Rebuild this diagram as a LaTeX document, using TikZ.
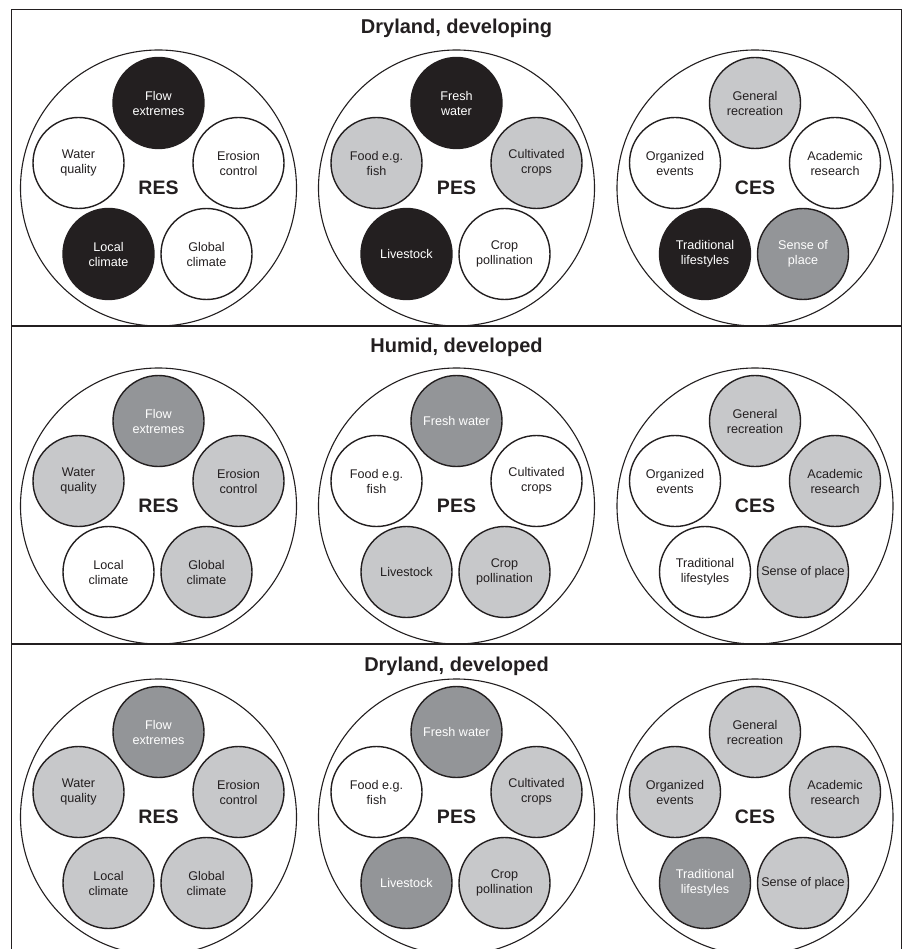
\documentclass[tikz,border=0pt]{standalone}
\usepackage{fontspec}
\setmainfont{Liberation Sans}
\definecolor{ink}{HTML}{231F20}
\definecolor{midgray}{HTML}{939598}
\definecolor{ltgray}{HTML}{C7C8CA}
\tikzset{
  frameline/.style={draw=ink, line width=1.6pt},
  sepline/.style={draw=ink, line width=1.2pt},
  title/.style={font=\fontsize{20}{24}\selectfont\bfseries, text=ink},
  bigc/.style={circle, draw=ink, line width=1.1pt, minimum size=276pt, inner sep=0pt,
    font=\fontsize{19.5}{22}\selectfont\bfseries, text=ink},
  es/.style={circle, draw=ink, line width=1.4pt, minimum size=91pt, inner sep=0pt,
    align=center, font=\fontsize{12.6}{15}\selectfont, text=ink, fill=white},
  wht/.style={es},
  lgt/.style={es, fill=ltgray},
  drk/.style={es, fill=midgray, text=white},
  blk/.style={es, fill=ink, text=white}
}
\begin{document}
\begin{tikzpicture}[x=1pt, y=-1pt]
    \clip (0,0) rectangle (905,949);
    \fill[white] (0,0) rectangle (905,949);

    \coordinate (tl) at (11.5,9.5);
    \coordinate (tr) at (901.5,9.5);
    \coordinate (bl) at (11.5,949);
    \coordinate (br) at (901.5,949);
    \coordinate (s1l) at (11.5,326);
    \coordinate (s1r) at (901.5,326);
    \coordinate (s2l) at (11.5,644);
    \coordinate (s2r) at (901.5,644);
    \draw[frameline] (bl) -- (tl) -- (tr) -- (br);
    \draw[sepline] (s1l) -- (s1r);
    \draw[sepline] (s2l) -- (s2r);

    \node[title] (ta) at (456.5,28) {Dryland, developing};
    \node[title] (tb) at (456.5,347) {Humid, developed};
    \node[title] (tc) at (456.5,666) {Dryland, developed};

    \node[bigc] (resa) at (158.5,188) {RES};
    \node[bigc] (pesa) at (456.5,188) {PES};
    \node[bigc] (cesa) at (755,188) {CES};
    \node[bigc] (resb) at (158.5,506) {RES};
    \node[bigc] (pesb) at (456.5,506) {PES};
    \node[bigc] (cesb) at (755,506) {CES};
    \node[bigc] (resc) at (158.5,817) {RES};
    \node[bigc] (pesc) at (456.5,817) {PES};
    \node[bigc] (cesc) at (755,817) {CES};

    \node[blk] (resa-flow) at ([yshift=85pt]resa.center) {Flow\\extremes};
    \node[wht] (resa-water) at ([xshift=-80pt,yshift=25pt]resa.center) {Water\\quality};
    \node[wht] (resa-erosion) at ([xshift=80pt,yshift=25pt]resa.center) {Erosion\\control};
    \node[blk] (resa-local) at ([xshift=-50pt,yshift=-66pt]resa.center) {Local\\climate};
    \node[wht] (resa-global) at ([xshift=48pt,yshift=-66pt]resa.center) {Global\\climate};

    \node[blk] (pesa-fresh) at ([yshift=85pt]pesa.center) {Fresh\\water};
    \node[lgt] (pesa-food) at ([xshift=-80pt,yshift=25pt]pesa.center) {Food e.g.\\fish};
    \node[lgt] (pesa-crops) at ([xshift=80pt,yshift=25pt]pesa.center) {Cultivated\\crops};
    \node[blk] (pesa-stock) at ([xshift=-50pt,yshift=-66pt]pesa.center) {Livestock};
    \node[wht] (pesa-poll) at ([xshift=48pt,yshift=-66pt]pesa.center) {Crop\\pollination};

    \node[lgt] (cesa-recr) at ([yshift=85pt]cesa.center) {General\\recreation};
    \node[wht] (cesa-events) at ([xshift=-80pt,yshift=25pt]cesa.center) {Organized\\events};
    \node[wht] (cesa-acad) at ([xshift=80pt,yshift=25pt]cesa.center) {Academic\\research};
    \node[blk] (cesa-trad) at ([xshift=-50pt,yshift=-66pt]cesa.center) {Traditional\\lifestyles};
    \node[drk] (cesa-place) at ([xshift=48pt,yshift=-66pt]cesa.center) {Sense of\\place};

    \node[drk] (resb-flow) at ([yshift=85pt]resb.center) {Flow\\extremes};
    \node[lgt] (resb-water) at ([xshift=-80pt,yshift=25pt]resb.center) {Water\\quality};
    \node[lgt] (resb-erosion) at ([xshift=80pt,yshift=25pt]resb.center) {Erosion\\control};
    \node[wht] (resb-local) at ([xshift=-50pt,yshift=-66pt]resb.center) {Local\\climate};
    \node[lgt] (resb-global) at ([xshift=48pt,yshift=-66pt]resb.center) {Global\\climate};

    \node[drk] (pesb-fresh) at ([yshift=85pt]pesb.center) {Fresh water};
    \node[wht] (pesb-food) at ([xshift=-80pt,yshift=25pt]pesb.center) {Food e.g.\\fish};
    \node[wht] (pesb-crops) at ([xshift=80pt,yshift=25pt]pesb.center) {Cultivated\\crops};
    \node[lgt] (pesb-stock) at ([xshift=-50pt,yshift=-66pt]pesb.center) {Livestock};
    \node[lgt] (pesb-poll) at ([xshift=48pt,yshift=-66pt]pesb.center) {Crop\\pollination};

    \node[lgt] (cesb-recr) at ([yshift=85pt]cesb.center) {General\\recreation};
    \node[wht] (cesb-events) at ([xshift=-80pt,yshift=25pt]cesb.center) {Organized\\events};
    \node[lgt] (cesb-acad) at ([xshift=80pt,yshift=25pt]cesb.center) {Academic\\research};
    \node[wht] (cesb-trad) at ([xshift=-50pt,yshift=-66pt]cesb.center) {Traditional\\lifestyles};
    \node[lgt] (cesb-place) at ([xshift=48pt,yshift=-66pt]cesb.center) {Sense of place};

    \node[drk] (resc-flow) at ([yshift=85pt]resc.center) {Flow\\extremes};
    \node[lgt] (resc-water) at ([xshift=-80pt,yshift=25pt]resc.center) {Water\\quality};
    \node[lgt] (resc-erosion) at ([xshift=80pt,yshift=25pt]resc.center) {Erosion\\control};
    \node[lgt] (resc-local) at ([xshift=-50pt,yshift=-66pt]resc.center) {Local\\climate};
    \node[lgt] (resc-global) at ([xshift=48pt,yshift=-66pt]resc.center) {Global\\climate};

    \node[drk] (pesc-fresh) at ([yshift=85pt]pesc.center) {Fresh water};
    \node[wht] (pesc-food) at ([xshift=-80pt,yshift=25pt]pesc.center) {Food e.g.\\fish};
    \node[lgt] (pesc-crops) at ([xshift=80pt,yshift=25pt]pesc.center) {Cultivated\\crops};
    \node[drk] (pesc-stock) at ([xshift=-50pt,yshift=-66pt]pesc.center) {Livestock};
    \node[lgt] (pesc-poll) at ([xshift=48pt,yshift=-66pt]pesc.center) {Crop\\pollination};

    \node[lgt] (cesc-recr) at ([yshift=85pt]cesc.center) {General\\recreation};
    \node[lgt] (cesc-events) at ([xshift=-80pt,yshift=25pt]cesc.center) {Organized\\events};
    \node[lgt] (cesc-acad) at ([xshift=80pt,yshift=25pt]cesc.center) {Academic\\research};
    \node[drk] (cesc-trad) at ([xshift=-50pt,yshift=-66pt]cesc.center) {Traditional\\lifestyles};
    \node[lgt] (cesc-place) at ([xshift=48pt,yshift=-66pt]cesc.center) {Sense of place};
\end{tikzpicture}
\end{document}
